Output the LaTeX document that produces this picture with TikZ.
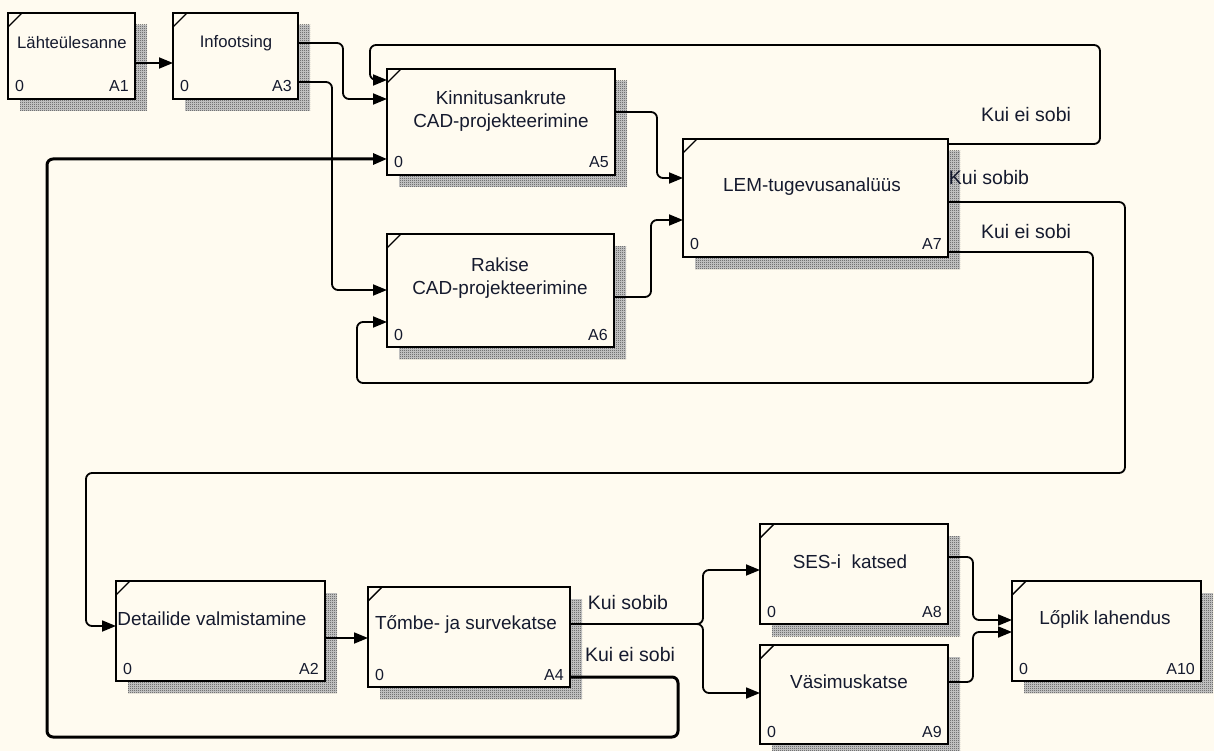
\documentclass[tikz,border=0pt]{standalone}
\usepackage{fontspec}
\setmainfont{Liberation Sans}
\usepackage{tikz}
\usepackage{xcolor}
\usetikzlibrary{arrows.meta,patterns}
\definecolor{paper}{HTML}{FFFBF0}
\definecolor{ink}{HTML}{151A2E}
\pgfdeclarepatternformonly{checker}{\pgfpointorigin}{\pgfpoint{2pt}{2pt}}{\pgfpoint{2pt}{2pt}}{%
  \pgfpathrectangle{\pgfpointorigin}{\pgfpoint{1pt}{1pt}}%
  \pgfpathrectangle{\pgfpoint{1pt}{1pt}}{\pgfpoint{1pt}{1pt}}%
  \pgfusepath{fill}}
\tikzset{
  actbox/.style={rectangle,draw=black,line width=1.6pt,fill=paper,inner sep=0pt,outer sep=0pt},
  shade/.style={fill=black!18,pattern=checker,pattern color=black!75},
  title/.style={text=ink,align=center,inner sep=0pt},
  corner/.style={text=ink,font=\fontsize{16}{18}\selectfont,inner sep=0pt},
  cond/.style={text=ink,font=\fontsize{19.5}{22}\selectfont,inner sep=0pt},
  flow/.style={line width=1.8pt,rounded corners=6pt,-{Triangle[length=14pt,width=11pt]}},
  back/.style={flow,line width=3pt},
}

\begin{document}
\begin{tikzpicture}[x=1pt,y=-1pt]
  \useasboundingbox[fill=paper] (0,0) rectangle (1214,751);
  \foreach \nm/\xa/\ya/\xb/\yb/\tx/\ty/\fs/\txt in {
    A1/8/13/135/99/72/43/16.7/{Lähteülesanne},
    A3/173/13/298/99/236/43/16.7/{Infootsing},
    A5/387/69/615/175/501/111/18.9/{Kinnitusankrute\\CAD-projekteerimine},
    A6/387/234/614/347/500/278/18.9/{Rakise\\CAD-projekteerimine},
    A7/683/139/948/257/812/187/18.9/{LEM-tugevusanalüüs},
    A2/116/581/325/681/212/619/18.9/{Detailide valmistamine},
    A4/368/587/570/687/466/624/18.9/{Tőmbe- ja survekatse},
    A8/760/524/948/624/850/562/18.9/{SES-i\ \ katsed},
    A9/760/645/948/744/849/682/18.9/{Väsimuskatse},
    A10/1012/581/1201/681/1105/619/18.9/{Lőplik lahendus}}{
    \fill[fill=black!18] (\xa+12,\ya+12) rectangle (\xb+12,\yb+12);
    \fill[shade] (\xa+12,\ya+12) rectangle (\xb+12,\yb+12);
    \node[actbox,minimum width={(\xb-\xa)*1pt},minimum height={(\yb-\ya)*1pt}]
      (\nm) at ({(\xa+\xb)/2},{(\ya+\yb)/2}) {};
    \draw[line width=1.4pt] (\xa,\ya+14) -- (\xa+14,\ya);
    \node[title,font=\fontsize{\fs}{23}\selectfont] (\nm-t) at (\tx,\ty) {\txt};
    \node[corner,anchor=base west] (\nm-z) at (\xa+7,\yb-7) {0};
    \node[corner,anchor=base east] (\nm-n) at (\xb-6,\yb-7) {\nm};
  }

  \draw[flow] (A1.east |- 0,63) -- (A3.west |- 0,63);
  \draw[flow] (A3.east |- 0,43) -- (343,43) -- (343,99) -- (A5.west |- 0,99);
  \draw[flow] (A3.east |- 0,82) -- (332,82) -- (332,290) -- (A6.west |- 0,290);
  \draw[flow] (A5.east |- 0,112) -- (657,112) -- (657,178) -- (A7.west |- 0,178);
  \draw[flow] (A6.east |- 0,297) -- (651,297) -- (651,220) -- (A7.west |- 0,220);
  % loops out of A7
  \draw[flow] (A7.east |- 0,144) -- (1100,144) -- (1100,45) -- (370,45) -- (370,80) -- (A5.west |- 0,80);
  \draw[flow] (A7.east |- 0,202) -- (1125,202) -- (1125,473) -- (86,473) -- (86,626) -- (A2.west |- 0,626);
  \draw[flow] (A7.east |- 0,252) -- (1093,252) -- (1093,383) -- (357,383) -- (357,322) -- (A6.west |- 0,322);
  \node[cond] (k1) at (1026,115) {Kui ei sobi};
  \node[cond] (k2) at (989,178) {Kui sobib};
  \node[cond] (k3) at (1026,232) {Kui ei sobi};

  \draw[flow] (A2.east |- 0,638) -- (A4.west |- 0,638);
  \coordinate (fork) at (703,624);
  \draw[flow] (A4.east |- fork) -- (fork) -- (703,570) -- (A8.west |- 0,570);
  \draw[flow] (A4.east |- fork) -- (fork) -- (703,693) -- (A9.west |- 0,693);
  \draw[back] (A4.east |- 0,677) -- (678,677) -- (678,737) -- (47,737) -- (47,159) -- (A5.west |- 0,159);
  \node[cond] (k4) at (628,603) {Kui sobib};
  \node[cond] (k5) at (630,655) {Kui ei sobi};

  \draw[flow] (A8.east |- 0,557) -- (973,557) -- (973,620) -- (A10.west |- 0,620);
  \draw[flow] (A9.east |- 0,682) -- (973,682) -- (973,632) -- (A10.west |- 0,632);
\end{tikzpicture}
\end{document}
